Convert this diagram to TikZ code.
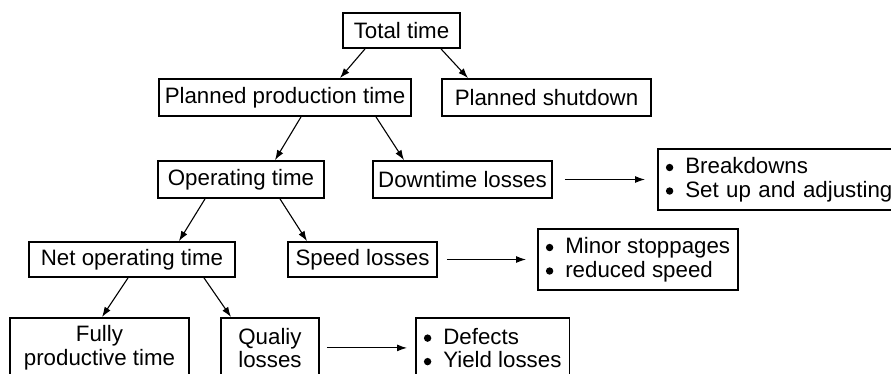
\documentclass[tikz,border=0pt]{standalone}
\usepackage{fontspec}
\setmainfont{Liberation Sans}
\usetikzlibrary{arrows.meta}

\newcommand{\itm}{\tikz[baseline=-6pt]\fill (0,0) circle (3.7pt);\hspace{12pt}}

\begin{document}
\begin{tikzpicture}[x=1pt, y=-1pt,
    font=\fontsize{22.3}{23.5}\selectfont,
    box/.style={draw, line width=1.8pt, inner sep=0pt, minimum height=37pt},
    listbox/.style={draw, line width=1.8pt, align=left, inner xsep=8pt, inner ysep=0pt, minimum height=61pt},
    arr/.style={line width=1.1pt, -{Latex[length=10pt, width=7pt]}}]

    % 0. Frame of the picture (boxes run off the bottom and right edge)
    \useasboundingbox (0,0) rectangle (891,373);
    \clip (0,0) rectangle (891,373);

    % 1. Top levels
    \node[box, minimum width=117pt, minimum height=35pt] (total) at (401.5,30.5) {Total time};
    \node[box, minimum width=252pt] (ppt) at (285,97.5) {Planned production time};
    \node[box, minimum width=209pt] (shut) at (546.5,97.5) {Planned shutdown};

    % 2. Operating level
    \node[box, minimum width=166pt] (oper) at (241,179.5) {Operating time};
    \node[box, minimum width=179pt] (down) at (462.5,179.5) {Downtime losses};
    \node[listbox, text width=232pt, anchor=west] (brk) at (657,179.5)
        {\itm Breakdowns\\\itm Set up and adjusting};

    % 3. Net operating level
    \node[box, minimum width=206pt, minimum height=35pt] (net) at (132,259.5) {Net operating time};
    \node[box, minimum width=149pt, minimum height=35pt] (speed) at (362.5,259.5) {Speed losses};
    \node[listbox, anchor=west] (minor) at (537,259.5)
        {\itm Minor stoppages\\\itm reduced speed};

    % 4. Bottom level
    \node[box, align=center, minimum width=179pt, minimum height=60pt, anchor=north] (full) at (99.5,317)
        {Fully\\productive time};
    \node[box, align=center, minimum width=98pt, minimum height=60pt, anchor=north] (qual) at (270,317)
        {Qualiy\\losses};
    \node[listbox, minimum height=60pt, anchor=north west] (defect) at (415,317)
        {\itm Defects\\\itm Yield losses};

    % 5. Tree arrows
    \draw[arr] ([xshift=-36.5]total.south) -- ([xshift=55]ppt.north);
    \draw[arr] ([xshift=39.5]total.south) -- ([xshift=-78.5]shut.north);
    \draw[arr] ([xshift=16]ppt.south) -- ([xshift=34]oper.north);
    \draw[arr] ([xshift=91]ppt.south) -- ([xshift=-58.5]down.north);
    \draw[arr] ([xshift=-36]oper.south) -- ([xshift=47]net.north);
    \draw[arr] ([xshift=39]oper.south) -- ([xshift=-55.5]speed.north);
    \draw[arr] ([xshift=-4]net.south) -- ([xshift=2.5]full.north);
    \draw[arr] ([xshift=72]net.south) -- ([xshift=-39]qual.north);

    % 6. Arrows to the lists of causes
    \draw[arr, shorten <=12pt, shorten >=12pt] (down) -- (brk);
    \draw[arr, shorten <=9pt, shorten >=11pt] (speed) -- (minor);
    \draw[arr, shorten <=7pt, shorten >=8pt] (qual) -- (defect);

\end{tikzpicture}
\end{document}
